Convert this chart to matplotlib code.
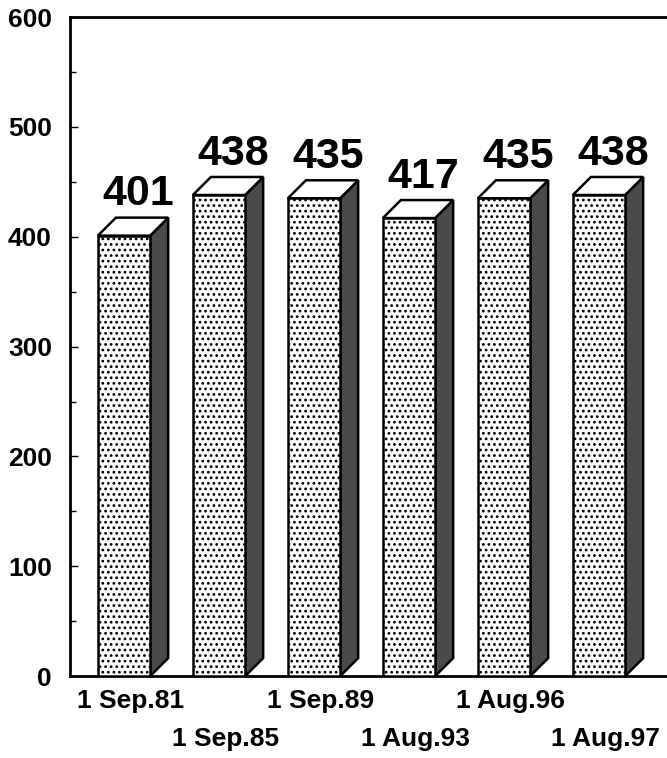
import matplotlib
matplotlib.use("Agg")
import matplotlib.pyplot as plt
from matplotlib.patches import Polygon, Rectangle
from matplotlib.transforms import blended_transform_factory

categories = ["1 Sep.81", "1 Sep.85", "1 Sep.89", "1 Aug.93", "1 Aug.96", "1 Aug.97"]
values = [401, 438, 435, 417, 435, 438]
y_ticks = [0, 100, 200, 300, 400, 500, 600]

plt.rcParams['font.family'] = ['Liberation Sans', 'DejaVu Sans']
plt.rcParams['font.weight'] = 'bold'
plt.rcParams['hatch.linewidth'] = 1.2

fig = plt.figure(figsize=(6.67, 7.58), dpi=100)
ax = fig.add_axes([0.105, 0.108, 0.895, 0.8695])
ax.set_xlim(-0.568, 5.716)
ax.set_ylim(0, 600)

w = 0.55
dx = 0.19
dy = 16.4

for i, v in enumerate(values):
    xl = i - w / 2
    xr = i + w / 2
    side = Polygon([(xr, 0), (xr + dx, dy), (xr + dx, v + dy), (xr, v)],
                   closed=True, facecolor='#4a4a4a', edgecolor='black', lw=1.8, zorder=2)
    ax.add_patch(side)
    top = Polygon([(xl, v), (xr, v), (xr + dx, v + dy), (xl + dx, v + dy)],
                  closed=True, facecolor='white', edgecolor='black', lw=1.8, zorder=2)
    ax.add_patch(top)
    front = Rectangle((xl, 0), w, v, facecolor='white', edgecolor='black',
                      hatch='...', lw=1.8, zorder=3)
    ax.add_patch(front)
    ax.text(i + dx / 2 + 0.05, v + dy + 3, str(v), ha='center', va='bottom',
            fontsize=31, fontweight='bold', zorder=4)

ax.set_yticks(y_ticks)
ax.set_yticklabels([str(t) for t in y_ticks], fontsize=19, fontweight='bold')
ax.set_yticks(range(50, 600, 100), minor=True)
ax.tick_params(axis='y', which='major', direction='in', length=6, width=1, pad=13)
ax.tick_params(axis='y', which='minor', direction='in', length=4, width=1)
ax.set_xticks([])

trans = blended_transform_factory(ax.transData, ax.transAxes)
for i, c in enumerate(categories):
    yoff = -0.02 if i % 2 == 0 else -0.077
    ax.text(i + 0.07, yoff, c, transform=trans, ha='center', va='top',
            fontsize=19, fontweight='bold', clip_on=False)

for s in ['left', 'top', 'bottom']:
    ax.spines[s].set_linewidth(2)
ax.spines['right'].set_visible(False)

fig.savefig("out.png", dpi=100)
